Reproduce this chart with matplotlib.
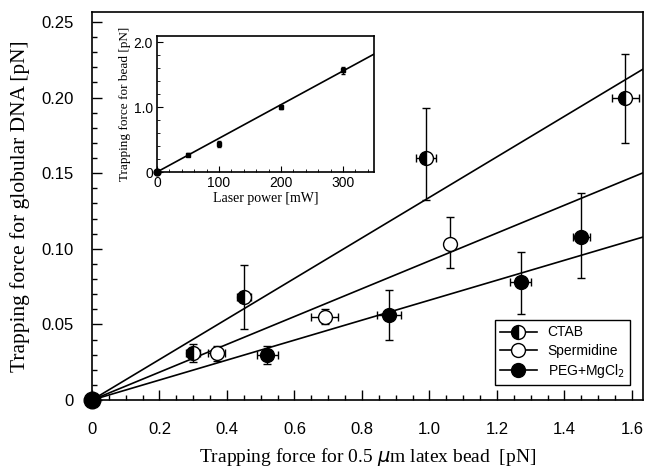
import numpy as np
import matplotlib.pyplot as plt
from matplotlib.lines import Line2D
from matplotlib.ticker import MultipleLocator, FixedFormatter, FixedLocator

plt.rcParams['font.family'] = ['Liberation Sans', 'DejaVu Sans']

# CTAB (half filled)
ctab_x = [0.30, 0.45, 0.99, 1.58]
ctab_y = [0.031, 0.068, 0.160, 0.200]
ctab_ylo = [0.006, 0.021, 0.028, 0.030]
ctab_yhi = [0.006, 0.021, 0.033, 0.029]
ctab_xerr = [0.02, 0.02, 0.03, 0.04]

# Spermidine (open)
sperm_x = [0.37, 0.69, 1.06]
sperm_y = [0.031, 0.055, 0.103]
sperm_ylo = [0.005, 0.005, 0.016]
sperm_yhi = [0.005, 0.005, 0.018]
sperm_xerr = [0.025, 0.04, 0.0]

# PEG+MgCl2 (filled)
peg_x = [0.52, 0.88, 1.27, 1.45]
peg_y = [0.030, 0.056, 0.078, 0.108]
peg_ylo = [0.006, 0.016, 0.021, 0.027]
peg_yhi = [0.006, 0.017, 0.020, 0.029]
peg_xerr = [0.03, 0.035, 0.03, 0.025]

# fitted slopes through origin
slopes = [0.134, 0.092, 0.066]

# inset: bead trapping force vs laser power
power = [50, 100, 200, 300]
bead_force = [0.27, 0.43, 1.01, 1.57]
bead_err = [0.03, 0.05, 0.03, 0.05]
inset_slope = 0.0052

fig = plt.figure(figsize=(6.45, 4.68), dpi=100)
ax = fig.add_axes([92/645, 68/468, 551/645, 388/468])

xmax = 1.633
ax.set_xlim(0, xmax)
ax.set_ylim(0, 0.2566)

xs = np.array([0, xmax])
for s in slopes:
    ax.plot(xs, s * xs, color='black', lw=1.2, zorder=2)

ekw = dict(ecolor='black', elinewidth=1.0, capsize=3, capthick=1.0, ms=10, mec='black', mew=1.0, ls='none', zorder=3)
ax.errorbar(ctab_x, ctab_y, yerr=[ctab_ylo, ctab_yhi], xerr=ctab_xerr, fmt='o',
            mfc='black', mfcalt='white', fillstyle='left', **ekw)
ax.errorbar(sperm_x, sperm_y, yerr=[sperm_ylo, sperm_yhi], xerr=sperm_xerr, fmt='o',
            mfc='white', **ekw)
ax.errorbar(peg_x, peg_y, yerr=[peg_ylo, peg_yhi], xerr=peg_xerr, fmt='o',
            mfc='black', **ekw)
ax.plot([0], [0], 'o', color='black', ms=12, clip_on=False, zorder=5)

for sp in ax.spines.values():
    sp.set_linewidth(1.2)

ax.xaxis.set_major_locator(FixedLocator([0, 0.2, 0.4, 0.6, 0.8, 1.0, 1.2, 1.4, 1.6]))
ax.xaxis.set_major_formatter(FixedFormatter(['0', '0.2', '0.4', '0.6', '0.8', '1.0', '1.2', '1.4', '1.6']))
ax.xaxis.set_minor_locator(MultipleLocator(0.05))
ax.yaxis.set_major_locator(FixedLocator([0, 0.05, 0.10, 0.15, 0.20, 0.25]))
ax.yaxis.set_major_formatter(FixedFormatter(['0', '0.05', '0.10', '0.15', '0.20', '0.25']))
ax.yaxis.set_minor_locator(MultipleLocator(0.01))
ax.tick_params(which='both', direction='in', width=1.0)
ax.tick_params(which='major', length=7, labelsize=12)
ax.tick_params(which='minor', length=3.5)
ax.tick_params(axis='x', which='major', pad=16)
ax.tick_params(axis='y', which='major', pad=13)

ax.set_xlabel(r'Trapping force for 0.5 $\mu$m latex bead  [pN]', family='Liberation Serif',
              fontsize=14, labelpad=6)
ax.set_ylabel('Trapping force for globular DNA [pN]', family='Liberation Serif',
              fontsize=15.5, labelpad=8)

handles = [
    Line2D([], [], color='black', lw=1.2, marker='o', ms=10, mfc='black', mfcalt='white',
           fillstyle='left', mec='black'),
    Line2D([], [], color='black', lw=1.2, marker='o', ms=10, mfc='white', mec='black'),
    Line2D([], [], color='black', lw=1.2, marker='o', ms=10, mfc='black', mec='black'),
]
leg = ax.legend(handles, ['CTAB', 'Spermidine', r'PEG+MgCl$_2$'], loc='lower right',
                bbox_to_anchor=(0.977, 0.038), borderaxespad=0, fancybox=False,
                framealpha=1, edgecolor='black', fontsize=10, handlelength=2.6,
                labelspacing=0.3, borderpad=0.4)
leg.get_frame().set_linewidth(1.0)

# inset
ins = fig.add_axes([157/645, 296/468, 217/645, 136/468])
ins.set_xlim(0, 350)
ins.set_ylim(0, 2.1)
px = np.array([0, 350])
ins.plot(px, inset_slope * px, color='black', lw=1.2)
ins.errorbar(power, bead_force, yerr=bead_err, fmt='s', color='black', ms=3.5,
             capsize=1.5, elinewidth=1.0, ls='none')
ins.plot([0], [0], 'o', color='black', ms=5, clip_on=False)
ins.xaxis.set_major_locator(FixedLocator([0, 100, 200, 300]))
ins.xaxis.set_minor_locator(MultipleLocator(20))
ins.yaxis.set_major_locator(FixedLocator([0, 1.0, 2.0]))
ins.yaxis.set_major_formatter(FixedFormatter(['0', '1.0', '2.0']))
ins.yaxis.set_minor_locator(MultipleLocator(0.2))
ins.tick_params(which='both', direction='in', labelsize=10)
ins.tick_params(which='major', length=4, pad=3)
ins.tick_params(which='minor', length=2)
for sp in ins.spines.values():
    sp.set_linewidth(1.2)
ins.set_xlabel('Laser power [mW]', family='Liberation Serif', fontsize=10, labelpad=1)
ins.set_ylabel('Trapping force for bead [pN]', family='Liberation Serif', fontsize=9.5, labelpad=2)

fig.savefig('out.png', dpi=100)
